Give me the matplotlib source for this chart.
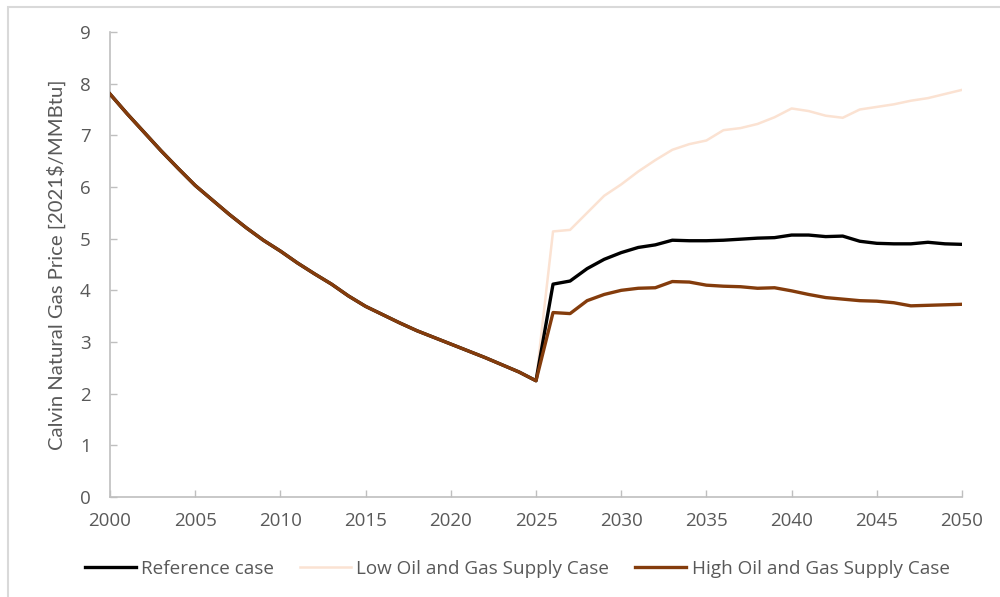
import matplotlib
matplotlib.use("Agg")
import matplotlib.pyplot as plt
from matplotlib.patches import Rectangle

years = list(range(2000, 2051))

hist = [7.80, 7.42, 7.06, 6.70, 6.36, 6.03, 5.75, 5.47, 5.21, 4.97,
        4.76, 4.53, 4.32, 4.12, 3.89, 3.69, 3.53, 3.37, 3.22, 3.09,
        2.96, 2.83, 2.70, 2.56, 2.42, 2.25]

ref_proj = [4.12, 4.18, 4.42, 4.60, 4.73, 4.83, 4.88, 4.97, 4.96, 4.96,
            4.97, 4.99, 5.01, 5.02, 5.07, 5.07, 5.04, 5.05, 4.95, 4.91,
            4.90, 4.90, 4.93, 4.90, 4.89]
low_proj = [5.14, 5.17, 5.50, 5.83, 6.05, 6.30, 6.52, 6.72, 6.83, 6.90,
            7.10, 7.14, 7.22, 7.35, 7.52, 7.47, 7.38, 7.34, 7.50, 7.55,
            7.60, 7.67, 7.72, 7.80, 7.88]
high_proj = [3.57, 3.55, 3.80, 3.92, 4.00, 4.04, 4.05, 4.17, 4.16, 4.10,
             4.08, 4.07, 4.04, 4.05, 3.99, 3.92, 3.86, 3.83, 3.80, 3.79,
             3.76, 3.70, 3.71, 3.72, 3.73]

reference = hist + ref_proj
low = hist + low_proj
high = hist + high_proj

labels = ["Reference case", "Low Oil and Gas Supply Case", "High Oil and Gas Supply Case"]
colors = ["#000000", "#FBE2D2", "#843C0C"]
x_ticks = list(range(2000, 2051, 5))
y_ticks = list(range(0, 10))

plt.rcParams['font.family'] = ['Open Sans', 'DejaVu Sans']

fig = plt.figure(figsize=(10, 5.97), dpi=100)
ax = fig.add_axes([0.11, 0.1675, 0.852, 0.7789])

ax.plot(years, reference, color=colors[0], lw=2.4, label=labels[0], zorder=3,
        solid_joinstyle='round')
ax.plot(years, low, color=colors[1], lw=1.8, label=labels[1], zorder=2,
        solid_joinstyle='round')
ax.plot(years, high, color=colors[2], lw=2.4, label=labels[2], zorder=4,
        solid_joinstyle='round')

ax.set_xlim(2000, 2050)
ax.set_ylim(0, 9)
ax.set_xticks(x_ticks)
ax.set_yticks(y_ticks)
for s in ['top', 'right']:
    ax.spines[s].set_visible(False)
for s in ['left', 'bottom']:
    ax.spines[s].set_color('#BFBFBF')
    ax.spines[s].set_linewidth(1.2)
ax.tick_params(axis='both', direction='in', length=5, width=1, color='#BFBFBF',
               labelcolor='#595959', labelsize=13.5)
ax.tick_params(axis='x', pad=11)
ax.tick_params(axis='y', pad=14)
ax.set_ylabel("Calvin Natural Gas Price [2021$/MMBtu]", color='#595959', fontsize=14.6,
              family=['Lato', 'DejaVu Sans'], labelpad=10)

leg = fig.legend(loc='center', bbox_to_anchor=(0.517, 0.047), ncol=3, frameon=False,
                 fontsize=13.6, handlelength=2.7, handletextpad=0.3, columnspacing=1.35,
                 labelcolor='#595959')

fig.add_artist(Rectangle((0.008, -0.1), 1.2, 1.1 - 7/597, transform=fig.transFigure,
                         fill=False, edgecolor='#D9D9D9', lw=1.5))

fig.savefig("out.png", dpi=100)
